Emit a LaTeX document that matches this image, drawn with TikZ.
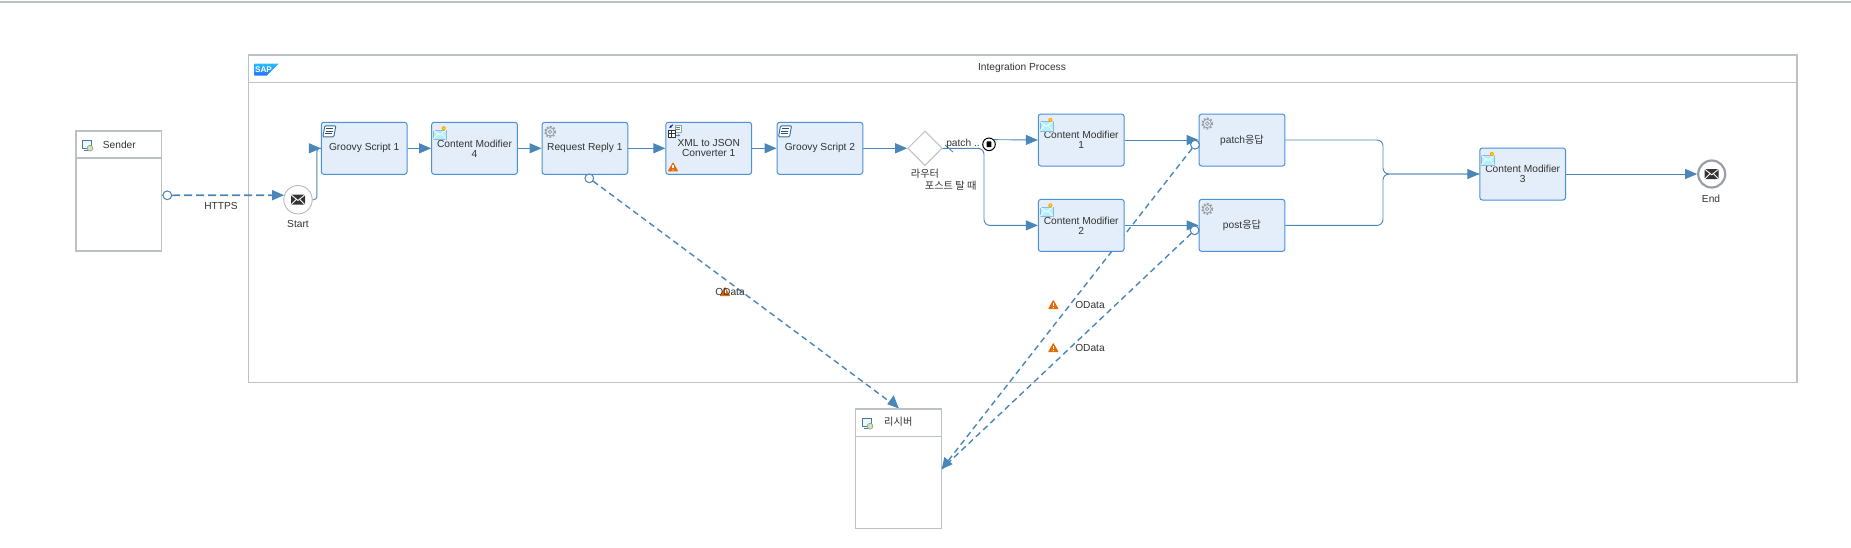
\documentclass[tikz,border=0pt]{standalone}
\usepackage{fontspec}
\setmainfont{Liberation Sans}
\newfontfamily\krfont{Noto Sans CJK KR}
\usetikzlibrary{arrows.meta,calc,positioning,shapes.geometric}
\pgfdeclarelayer{back}
\pgfsetlayers{back,main}
\definecolor{flowblue}{HTML}{4A86B8}
\definecolor{boxfill}{HTML}{E3EEFA}
\definecolor{boxline}{HTML}{4A90D9}
\definecolor{poolline}{HTML}{BCC1C6}
\definecolor{txtgrey}{HTML}{333333}
\definecolor{warnorange}{HTML}{E26B0A}
\definecolor{geargrey}{HTML}{9A9FA5}
\tikzset{
  x=1pt,y=-1pt,
  basefont/.style={font=\fontsize{10.2}{10}\selectfont,text=txtgrey},
  taskbox/.style={draw=boxline,fill=boxfill,line width=1pt,rounded corners=2.5pt,minimum width=85.7pt,minimum height=52pt,inner sep=0pt,align=center,basefont},
  poolbox/.style={draw=poolline,fill=white,line width=1.3pt,inner sep=0pt},
  pooldiv/.style={draw=poolline,line width=1.1pt},
  txt/.style={inner sep=0pt,align=center,basefont},
  flowline/.style={draw=flowblue,line width=0.9pt},
  flowarrow/.style={flowline,-{Triangle[length=12pt,width=10pt,fill=flowblue]}},
  dashlink/.style={draw=flowblue,line width=1.4pt,dash pattern=on 6pt off 4pt},
  portcircle/.style={circle,draw=flowblue,fill=white,line width=0.9pt,minimum size=8.6pt,inner sep=0pt},
  startevent/.style={circle,draw=geargrey!80,fill=white,line width=0.8pt,minimum size=28.4pt,inner sep=0pt},
  endevent/.style={circle,draw=geargrey,fill=white,line width=2.2pt,minimum size=27pt,inner sep=0pt},
  gatewayshape/.style={diamond,aspect=1,draw=poolline,fill=white,line width=1pt,minimum size=34.6pt,inner sep=0pt},
  mailicon/.pic={
    \fill[fill=txtgrey,rounded corners=1pt] (-7,-5) rectangle (7,5);
    \draw[white,line width=0.9pt] (-6.5,-4.5) -- (0,0.8) -- (6.5,-4.5);
    \draw[white,line width=0.9pt] (-6.5,4.5) -- (-1.5,-0.5) (6.5,4.5) -- (1.5,-0.5);
  },
  warnicon/.pic={
    \fill[warnorange,rounded corners=0.8pt] (0,-5) -- (5.4,4.4) -- (-5.4,4.4) -- cycle;
    \draw[white,line width=1.2pt] (0,-2) -- (0,1.4);
    \fill[white] (0,3) circle (0.7);
  },
  scrollicon/.pic={
    \draw[draw=flowblue!80!black,fill=white,line width=0.9pt,rounded corners=1pt] (4,4) -- (15,4) -- (13,15) -- (2,15) -- cycle;
    \draw[draw=flowblue!60!black,line width=1pt] (5,7) -- (12,7) (4.7,9.5) -- (11.7,9.5) (4.3,12) -- (11.3,12);
  },
  gearicon/.pic={
    \draw[geargrey,line width=1.8pt,dash pattern=on 1.7pt off 1.7pt] (8.5,10) circle (5.2);
    \draw[geargrey,line width=0.8pt] (8.5,10) circle (4.2);
    \draw[geargrey,line width=0.8pt] (8.5,10) circle (1.8);
  },
  mailstar/.pic={
    \fill[fill=blue!20!cyan!30!white,draw=flowblue!60,line width=0.5pt] (2,8) -- (15,8) -- (15,17.5) -- (2,17.5) -- cycle;
    \draw[white,line width=0.7pt] (2,8) -- (8.5,13) -- (15,8) (2,17.5) -- (6.5,12) (15,17.5) -- (10.5,12);
    \fill[orange!70!yellow] (12.5,6.5) circle (2.1);
    \fill[yellow!90!orange] (12.5,6.5) circle (1);
  },
  xmlicon/.pic={
    \draw[draw=geargrey,fill=yellow!12,line width=0.6pt] (10,3) rectangle (16,10);
    \draw[flowblue,line width=0.5pt] (11,5.5) -- (15,5.5) (11,7.5) -- (15,7.5);
    \draw[draw=txtgrey,fill=white,line width=0.9pt] (3,8.5) rectangle (10.5,16);
    \draw[draw=txtgrey,line width=0.8pt] (3,11.5) -- (10.5,11.5) (6.5,8.5) -- (6.5,16);
    \draw[blue!70!black,line width=0.9pt,-{Stealth[length=2.5pt,width=2.5pt]}] (7.5,3) -- (4,6);
    \draw[flowblue,line width=0.9pt,-{Stealth[length=2.5pt,width=2.5pt]}] (11,13.5) -- (15,13.5);
  },
  systemicon/.pic={
    \draw[draw=flowblue!90!black,fill=cyan!8,line width=0.9pt] (0,0) rectangle (9,8);
    \draw[draw=flowblue!90!black,line width=0.9pt] (2,10) -- (7,10);
    \draw[draw=geargrey,fill=yellow!40!green!35,line width=0.7pt] (8,8.2) circle (2.9);
  },
}
\begin{document}
\begin{tikzpicture}
\useasboundingbox (0,0) rectangle (1851,547);
\coordinate (topa) at (0,2);
\coordinate (topb) at (1851,2);
\draw[draw=poolline,line width=1.5pt] (topa) -- (topb);

% pool and participants
\begin{pgfonlayer}{back}
  \node[poolbox,minimum width=1548.3pt,minimum height=327.7pt] (pool) at (1022.85,218.85) {};
  \coordinate (poolhdr) at (248.7,82.7);
  \draw[pooldiv] (poolhdr) -- (poolhdr -| pool.east);
\end{pgfonlayer}
\node[poolbox,minimum width=85.5pt,minimum height=120pt] (sender) at (118.75,191) {};
\coordinate (senderhdr) at (76,158);
\draw[pooldiv] (senderhdr) -- (senderhdr -| sender.east);
\node[poolbox,minimum width=85.6pt,minimum height=119.7pt] (receiver) at (898.5,468.85) {};
\coordinate (receiverhdr) at (855.7,436.3);
\draw[pooldiv] (receiverhdr) -- (receiverhdr -| receiver.east);

% SAP logo
\shade[top color=cyan!70!blue!85,bottom color=blue!65!cyan!85] (254.3,63.7) -- (278.7,63.7) -- (266.7,75.7) -- (254.3,75.7) -- cycle;
\node[inner sep=0pt,text=white,font=\bfseries\fontsize{8.2}{8}\selectfont] (saptext) at (263.5,69.7) {SAP};
\node[txt] (pooltitle) at (1022,68) {Integration Process};

% events and gateway
\node[startevent] (start) at (298,199.7) {};
\node[endevent] (endev) at (1711.7,174) {};
\node[gatewayshape] (gw) at (925,148.3) {};
\pic at (start) {mailicon};
\pic at (endev) {mailicon};

% task boxes
\node[taskbox] (gs1) at (364.2,148.3) {Groovy Script 1};
\node[taskbox] (cm4) at (474.5,148.3) {Content Modifier\\4};
\node[taskbox] (rr1) at (584.9,148.3) {Request Reply 1};
\node[taskbox] (xml) at (708.7,148.3) {XML to JSON\\Converter 1};
\node[taskbox] (gs2) at (819.9,148.3) {Groovy Script 2};
\node[taskbox] (cm1) at (1081.2,140) {Content Modifier\\1};
\node[taskbox] (cm2) at (1081.2,225.4) {Content Modifier\\2};
\node[taskbox] (patchr) at (1242,140) {patch{\krfont 응답}};
\node[taskbox] (postr) at (1242,225.4) {post{\krfont 응답}};
\node[taskbox] (cm3) at (1522.7,174) {Content Modifier\\3};

% icons in the boxes
\pic at (gs1.north west) {scrollicon};
\pic at (gs2.north west) {scrollicon};
\pic at (cm4.north west) {mailstar};
\pic at (cm1.north west) {mailstar};
\pic at (cm2.north west) {mailstar};
\pic at (cm3.north west) {mailstar};
\pic at (rr1.north west) {gearicon};
\pic at (patchr.north west) {gearicon};
\pic at (postr.north west) {gearicon};
\pic at (xml.north west) {xmlicon};
\pic at (673,167) {warnicon};
\pic at (82,140) {systemicon};
\pic at (862,418) {systemicon};

% ports
\node[portcircle] (sport) at (167.3,195.3) {};
\node[portcircle] (rrport) at (589.3,178.3) {};
\node[portcircle] (pport) at (1195,144.7) {};
\node[portcircle] (qport) at (1194.6,230.3) {};

% dashed message links (behind the tasks)
\coordinate (rcvleft) at (941.7,469);
\coordinate (rcvtop) at (898.7,408.4);
\begin{pgfonlayer}{back}
  \draw[dashlink] (rrport) -- (rcvtop);
  \draw[dashlink] (pport) -- (rcvleft);
  \draw[dashlink] (qport) -- (rcvleft);
\end{pgfonlayer}
\path[fill=flowblue] (rcvtop) -- ++(-11.5,-4.2) -- ++(6.5,-9) -- cycle;
\path[fill=flowblue] (rcvleft) -- ++(2.7,-12) -- ++(8.2,7.2) -- cycle;
\draw[draw=flowblue,line width=1.6pt,dash pattern=on 8pt off 4pt,-{Triangle[length=12pt,width=10pt,fill=flowblue]}] (sport) -- (start.162);
\draw[flowline] (sender.east |- sport) -- (sport);

% solid sequence flows
\coordinate (gsjoint) at ($(gs1.west)+(-4,0)$);
\draw[flowline,rounded corners=3pt] (start.east) -| (gsjoint) -- (gs1.west);
\draw[flowarrow] (gsjoint) ++(-8,0) -- (gs1.west);
\draw[flowarrow] (gs1.east) -- (cm4.west);
\draw[flowarrow] (cm4.east) -- (rr1.west);
\draw[flowarrow] (rr1.east) -- (xml.west);
\draw[flowarrow] (xml.east) -- (gs2.west);
\draw[flowarrow] (gs2.east) -- (gw.west);
\coordinate (gwturn) at (984,148.3);
\draw[flowline,rounded corners=6pt] (gw.east) -- (gwturn) |- ($(cm2.west)+(-6,0)$);
\draw[flowarrow] ($(cm2.west)+(-12,0)$) -- (cm2.west);
\node[circle,draw=black,fill=white,line width=1pt,minimum size=12.6pt,inner sep=0pt] (evt) at (989,144.3) {};
\fill[black,rounded corners=0.6pt] (986.6,141.4) rectangle (991.4,147.2);
\draw[flowarrow] (evt.43) -- (cm1.west);
\draw[flowline] (945,145) -- (953,152);
\draw[flowarrow] (cm1.east) -- (patchr.west);
\draw[flowarrow] (cm2.east) -- (postr.west);
\coordinate (mergept) at (1383,174);
\draw[flowline,rounded corners=6pt] (patchr.east) -| (mergept) -- (cm3.west);
\draw[flowline,rounded corners=6pt] (postr.east) -| (mergept) -- (cm3.west);
\draw[flowarrow] ($(cm3.west)+(-12,0)$) -- (cm3.west);
\draw[flowarrow] (cm3.east) -- (endev.west);

% port circles above the links
\node[portcircle] (sport2) at (sport) {};
\node[portcircle] (rrport2) at (rrport) {};
\node[portcircle] (pport2) at (pport) {};
\node[portcircle] (qport2) at (qport) {};

% labels
\node[txt] (tsender) at (119.3,144.7) {Sender};
\node[txt] (treceiver) at (898.3,422) {{\krfont 리시버}};
\node[txt] (thttps) at (221,206) {HTTPS};
\node[txt] (tstart) at (298,224) {Start};
\node[txt] (tend) at (1711,198.7) {End};
\node[txt] (tgw) at (925,174) {{\krfont 라우터}};
\node[txt] (tgw2) at (950.7,185.7) {{\krfont 포스트 탈 때}};
\node[txt] (tpatch) at (963,144) {patch ..};
\pic at (725,291.7) {warnicon};
\node[txt] (todata1) at (730,291.7) {OData};
\pic at (1053.3,304.7) {warnicon};
\node[txt] (todata2) at (1090,304.7) {OData};
\pic at (1053.3,347.7) {warnicon};
\node[txt] (todata3) at (1090,347.7) {OData};
\end{tikzpicture}
\end{document}
